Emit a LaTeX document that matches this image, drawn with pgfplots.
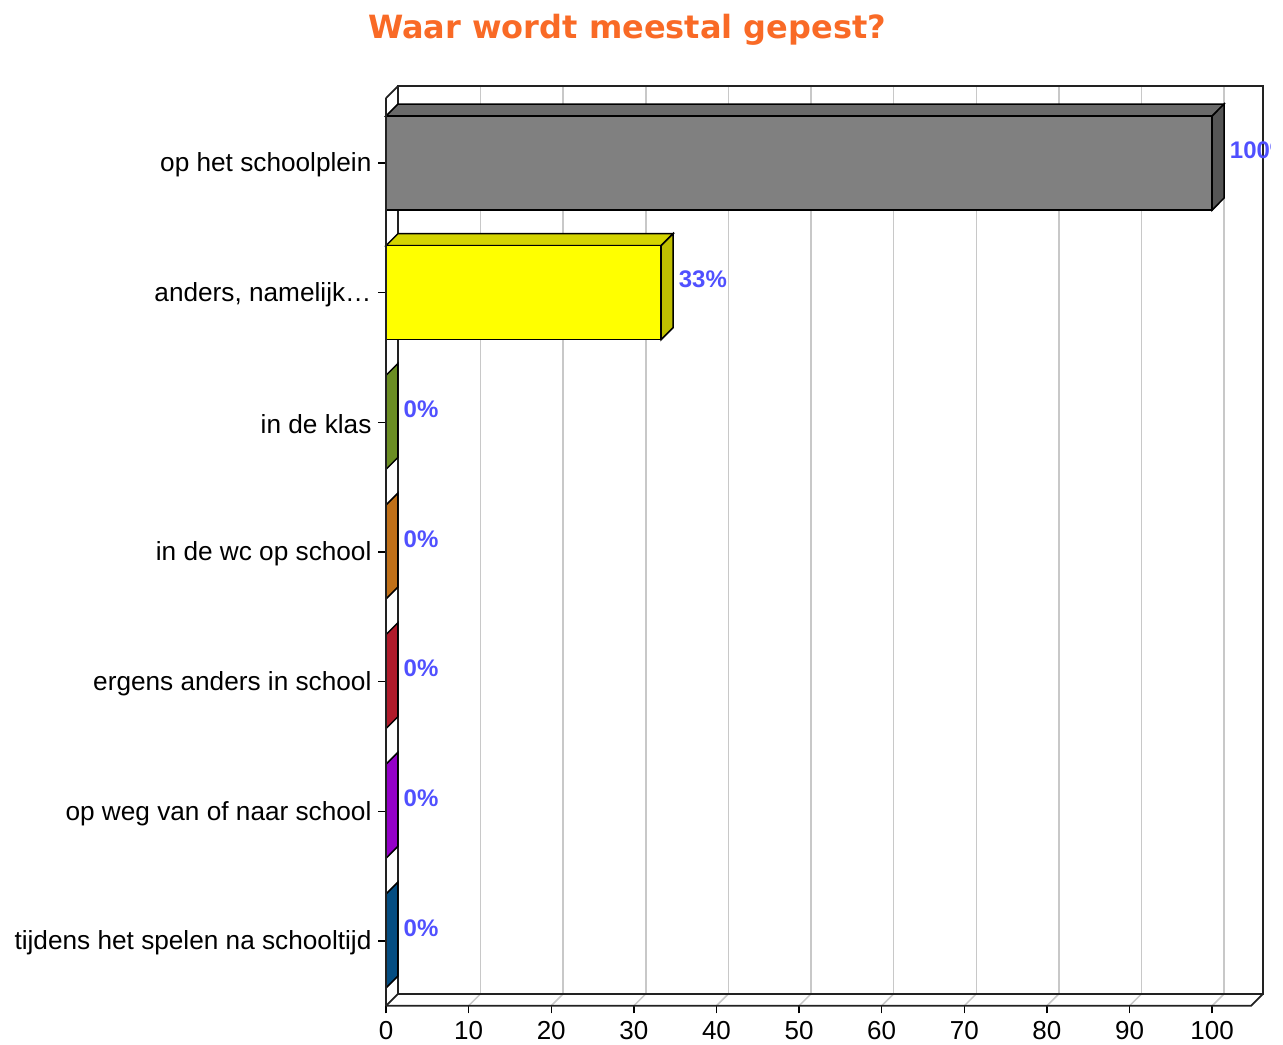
\documentclass[border=0pt]{standalone}
\usepackage{pgfplots}
\pgfplotsset{compat=1.18}
\usepackage{fontspec}
\setmainfont{Liberation Sans}
\newfontfamily\titlefont{DejaVu Sans}

\definecolor{titleorange}{HTML}{F96A26}
\definecolor{valblue}{HTML}{5050FF}
\definecolor{gridgray}{HTML}{C8C8C8}
\definecolor{framec}{HTML}{222222}
\definecolor{grayF}{HTML}{808080}
\definecolor{grayT}{HTML}{6A6A6A}
\definecolor{grayS}{HTML}{555555}
\definecolor{yelF}{HTML}{FFFF00}
\definecolor{yelT}{HTML}{D4D400}
\definecolor{yelS}{HTML}{BFBF00}
\definecolor{greenS}{HTML}{6B8E23}
\definecolor{orangeS}{HTML}{C07018}
\definecolor{redS}{HTML}{B01B2B}
\definecolor{purpleS}{HTML}{9400C8}
\definecolor{blueS}{HTML}{044D82}

\begin{document}
\begin{tikzpicture}
\useasboundingbox (-193pt,-19.1pt) rectangle (448.5pt,502.9pt);
\clip (-193pt,-19.1pt) rectangle (442pt,502.9pt);
\begin{axis}[
  at={(0,0)}, anchor=south west,
  scale only axis, width=432.5pt, height=453.8pt,
  xmin=0, xmax=104.7, ymin=-0.5, ymax=6.5,
  clip=false,
  axis line style={draw=none},
  xtick={0,10,...,100}, xtick pos=bottom,
  ytick={0,1,2,3,4,5,6}, ytick pos=left,
  yticklabels={tijdens het spelen na schooltijd, op weg van of naar school,
    ergens anders in school, in de wc op school, in de klas,
    {anders, namelijk\ldots}, op het schoolplein},
  tick align=outside, major tick length=3.75pt,
  tick style={black, line width=0.7pt},
  xticklabel style={font=\fontsize{13}{15}\selectfont, text=black, yshift=-0.5pt},
  yticklabel style={font=\fontsize{13.1}{15}\selectfont, text=black, yshift=-1pt},
  /pgf/number format/assume math mode=true,
  every node near coord/.append style={anchor=west, inner sep=0pt,
    xshift=8.5pt, yshift=6.5pt, text=valblue,
    font=\bfseries\fontsize{12}{14}\selectfont},
]
% back wall and grid
\pgfplotsinvokeforeach{10,20,...,100}{
  \draw[gridgray, line width=0.75pt] ([shift={(6pt,6pt)}]axis cs:#1,-0.5) -- ([shift={(6pt,6pt)}]axis cs:#1,6.5);
  \draw[gridgray, line width=0.75pt] (axis cs:#1,-0.5) -- ([shift={(6pt,6pt)}]axis cs:#1,-0.5);
}
\draw[framec, line width=0.9pt] ([shift={(6pt,6pt)}]axis cs:0,-0.5) rectangle ([shift={(6pt,6pt)}]axis cs:104.7,6.5);
\draw[framec, line width=0.9pt] (axis cs:0,6.5) -- ([shift={(6pt,6pt)}]axis cs:0,6.5);
\draw[framec, line width=0.9pt] (axis cs:0,-0.5) -- ([shift={(6pt,6pt)}]axis cs:0,-0.5);
\draw[framec, line width=0.9pt] (axis cs:0,-0.5) -- (axis cs:104.7,-0.5) -- ([shift={(6pt,6pt)}]axis cs:104.7,-0.5);

% op het schoolplein (100)
\addplot[fill=grayT, draw=black, line width=0.75pt] coordinates {(0,6.3625) (100,6.3625) (101.45,6.4551) (1.45,6.4551)} -- cycle;
\addplot[fill=grayS, draw=black, line width=0.75pt] coordinates {(100,6.3625) (101.45,6.4551) (101.45,5.7301) (100,5.6375)} -- cycle;
\addplot[xbar, bar shift=0pt, bar width=47pt, fill=grayF, draw=black, line width=0.75pt,
  point meta=x, nodes near coords={\pgfmathprintnumber[fixed,precision=0]{\pgfplotspointmeta}\%}]
  coordinates {(100,6)};
% anders, namelijk... (33)
\addplot[fill=yelT, draw=black, line width=0.75pt] coordinates {(0,5.3625) (33.3,5.3625) (34.75,5.4551) (1.45,5.4551)} -- cycle;
\addplot[fill=yelS, draw=black, line width=0.75pt] coordinates {(33.3,5.3625) (34.75,5.4551) (34.75,4.7301) (33.3,4.6375)} -- cycle;
\addplot[xbar, bar shift=0pt, bar width=47pt, fill=yelF, draw=black, line width=0.75pt,
  point meta=x, nodes near coords={\pgfmathprintnumber[fixed,precision=0]{\pgfplotspointmeta}\%}]
  coordinates {(33.3,5)};
% zero bars
\addplot[fill=greenS, draw=black, line width=0.75pt] coordinates {(0,4.3625) (1.45,4.4551) (1.45,3.7301) (0,3.6375)} -- cycle;
\addplot[fill=orangeS, draw=black, line width=0.75pt] coordinates {(0,3.3625) (1.45,3.4551) (1.45,2.7301) (0,2.6375)} -- cycle;
\addplot[fill=redS, draw=black, line width=0.75pt] coordinates {(0,2.3625) (1.45,2.4551) (1.45,1.7301) (0,1.6375)} -- cycle;
\addplot[fill=purpleS, draw=black, line width=0.75pt] coordinates {(0,1.3625) (1.45,1.4551) (1.45,0.7301) (0,0.6375)} -- cycle;
\addplot[fill=blueS, draw=black, line width=0.75pt] coordinates {(0,0.3625) (1.45,0.4551) (1.45,-0.2699) (0,-0.3625)} -- cycle;
\addplot[xbar, bar shift=0pt, bar width=47pt, fill=white, draw=black, line width=0.75pt,
  point meta=x, nodes near coords={\pgfmathprintnumber[fixed,precision=0]{\pgfplotspointmeta}\%}]
  coordinates {(0,4) (0,3) (0,2) (0,1) (0,0)};
% front left edge
\draw[framec, line width=0.9pt] (axis cs:0,-0.5) -- (axis cs:0,6.5);
\end{axis}
\node[font=\titlefont\bfseries\fontsize{16}{19}\selectfont, text=titleorange] at (120.5pt,488pt) {Waar wordt meestal gepest?};
\end{tikzpicture}
\end{document}
